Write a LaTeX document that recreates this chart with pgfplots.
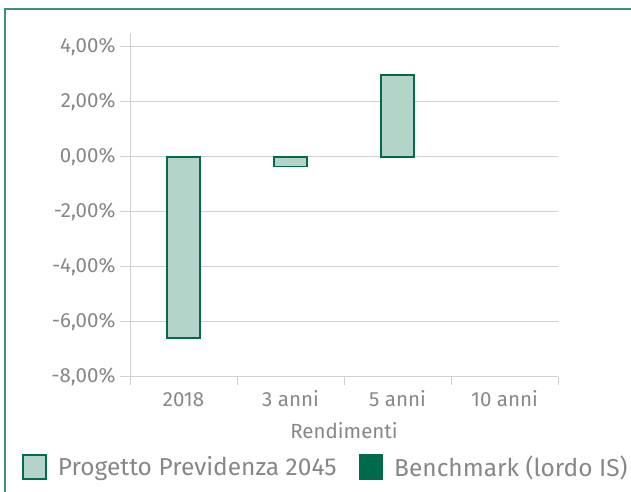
\documentclass[border=0pt]{standalone}
\usepackage{fontspec}
\setmainfont{Fira Sans}
\usepackage{pgfplots}
\pgfplotsset{compat=1.18}
\definecolor{txtgray}{HTML}{878787}
\definecolor{gridgray}{HTML}{D0D0D0}
\definecolor{barfill}{HTML}{B3D4C9}
\definecolor{baredge}{HTML}{006B4F}
\definecolor{framegreen}{HTML}{3B8F74}
\definecolor{bench}{HTML}{006A4D}
\begin{document}
\begin{tikzpicture}
\path[use as bounding box] (0,0) rectangle (631bp,492bp);
\draw[framegreen, line width=1.6bp] (5bp,-5bp) -- (5bp,483bp) -- (640bp,483bp);
\begin{axis}[
  at={(130bp,115.3bp)}, anchor=south west,
  scale only axis, width=428bp, height=343.7bp,
  xmin=-0.5, xmax=3.5, ymin=-8, ymax=4.5,
  ybar, bar width=0.31,
  xtick={0,1,2,3},
  xticklabels={2018,3 anni,5 anni,10 anni},
  major x tick style={draw=none},
  minor xtick={-0.5,0.5,1.5,2.5,3.5},
  minor tick length=8bp,
  ytick={-8,-6,...,4},
  major tick length=10bp,
  tick align=outside,
  tick style={draw=gridgray, line width=0.8bp},
  ymajorgrids, grid style={draw=gridgray, line width=1bp},
  axis x line*=bottom, axis y line*=left,
  axis line style={draw=gridgray, line width=1bp, -},
  /pgf/number format/assume math mode=true,
  yticklabel={\pgfmathprintnumber[fixed,fixed zerofill,precision=2,use comma]{\tick}\%},
  ticklabel style={font=\fontsize{20.5bp}{23bp}\selectfont, text=txtgray},
  xticklabel style={text height=15bp, text depth=4bp, yshift=-1bp},
  yticklabel style={xshift=-1bp},
  xlabel={Rendimenti},
  xlabel style={font=\fontsize{20.5bp}{23bp}\selectfont, text=txtgray, text height=15bp, text depth=4bp, yshift=-6bp},
  legend columns=2,
  legend style={at={(-0.259,-0.263)}, anchor=west, draw=none, fill=none,
    font=\fontsize{24.5bp}{28bp}\selectfont, text=txtgray,
    /tikz/every odd column/.append style={column sep=9bp},
    /tikz/every even column/.append style={column sep=20bp}},
  legend image code/.code={\draw[#1] (0bp,-12bp) rectangle (23bp,12bp);},
]
\addplot[fill=barfill, draw=baredge, line width=1.6bp] coordinates {(0,-6.6) (1,-0.36) (2,2.97)};
\addlegendentry{Progetto Previdenza 2045}
\addlegendimage{fill=bench, draw=bench, line width=1.6bp}
\addlegendentry{Benchmark (lordo IS)}
\end{axis}
\end{tikzpicture}
\end{document}
